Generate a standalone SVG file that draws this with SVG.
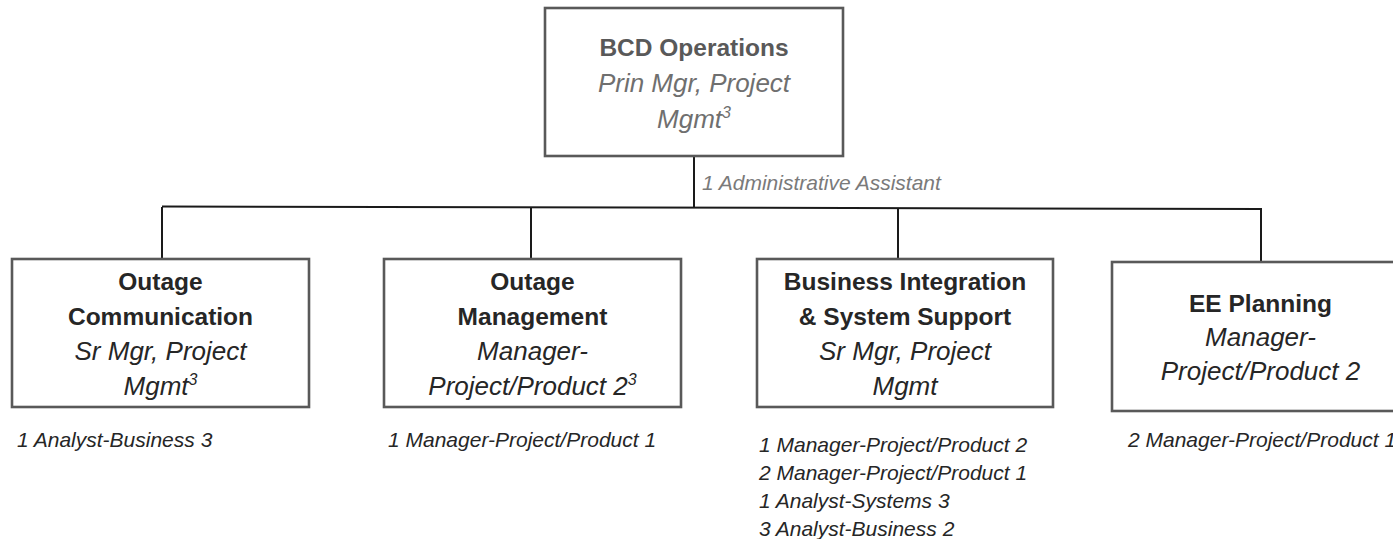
<svg xmlns="http://www.w3.org/2000/svg" width="1393" height="539" viewBox="0 0 1393 539">
<style>
.box{fill:#ffffff;stroke:#595959;stroke-width:2.6}
.t{font-family:"Liberation Sans",Arial,sans-serif;text-anchor:middle}
.b{font-weight:bold;font-size:24.5px;fill:#262626}
.i{font-style:italic;font-size:26px;fill:#262626}
.s{font-family:"Liberation Sans",Arial,sans-serif;font-style:italic;font-size:21px;fill:#262626}
.sup{font-size:16px}
.c{stroke:#1a1a1a;stroke-width:2;fill:none}
</style>
<g id="connectors">
<line class="c" x1="694" y1="156" x2="694" y2="208"/>
<line class="c" x1="162" y1="206.5" x2="1262" y2="209"/>
<line class="c" x1="162" y1="207" x2="162" y2="259"/>
<line class="c" x1="531" y1="208" x2="531" y2="259"/>
<line class="c" x1="898" y1="208" x2="898" y2="259"/>
<line class="c" x1="1261" y1="209" x2="1261" y2="262"/>
</g>
<g id="bcd-operations">
<rect class="box" x="545" y="8" width="298" height="148"/>
<text class="t b" x="694" y="56" style="fill:#595959">BCD Operations</text>
<text class="t i" x="694" y="92" style="fill:#6f6f6f">Prin Mgr, Project</text>
<text class="t i" x="694" y="128" style="fill:#6f6f6f">Mgmt<tspan class="sup" dy="-10">3</tspan></text>
<text class="s" x="702" y="190" style="fill:#7a7a7a">1 Administrative Assistant</text>
</g>
<g id="outage-communication">
<rect class="box" x="12" y="259" width="297" height="148"/>
<text class="t b" x="160.5" y="290">Outage</text>
<text class="t b" x="160.5" y="325">Communication</text>
<text class="t i" x="160.5" y="360">Sr Mgr, Project</text>
<text class="t i" x="160.5" y="395">Mgmt<tspan class="sup" dy="-10">3</tspan></text>
<text class="s" x="17" y="447">1 Analyst-Business 3</text>
</g>
<g id="outage-management">
<rect class="box" x="384" y="259" width="297" height="148"/>
<text class="t b" x="532.5" y="290">Outage</text>
<text class="t b" x="532.5" y="325">Management</text>
<text class="t i" x="532.5" y="360">Manager-</text>
<text class="t i" x="532.5" y="395">Project/Product 2<tspan class="sup" dy="-10">3</tspan></text>
<text class="s" x="388" y="447">1 Manager-Project/Product 1</text>
</g>
<g id="business-integration">
<rect class="box" x="757" y="259" width="296" height="148"/>
<text class="t b" x="905" y="290">Business Integration</text>
<text class="t b" x="905" y="325">&amp; System Support</text>
<text class="t i" x="905" y="360">Sr Mgr, Project</text>
<text class="t i" x="905" y="395">Mgmt</text>
<text class="s" x="759" y="452">1 Manager-Project/Product 2</text>
<text class="s" x="759" y="480">2 Manager-Project/Product 1</text>
<text class="s" x="759" y="508">1 Analyst-Systems 3</text>
<text class="s" x="759" y="536">3 Analyst-Business 2</text>
</g>
<g id="ee-planning">
<rect class="box" x="1112" y="262" width="297" height="149"/>
<text class="t b" x="1260.5" y="312">EE Planning</text>
<text class="t i" x="1260.5" y="346">Manager-</text>
<text class="t i" x="1260.5" y="380">Project/Product 2</text>
<text class="s" x="1128" y="447">2 Manager-Project/Product 1</text>
</g>
</svg>
